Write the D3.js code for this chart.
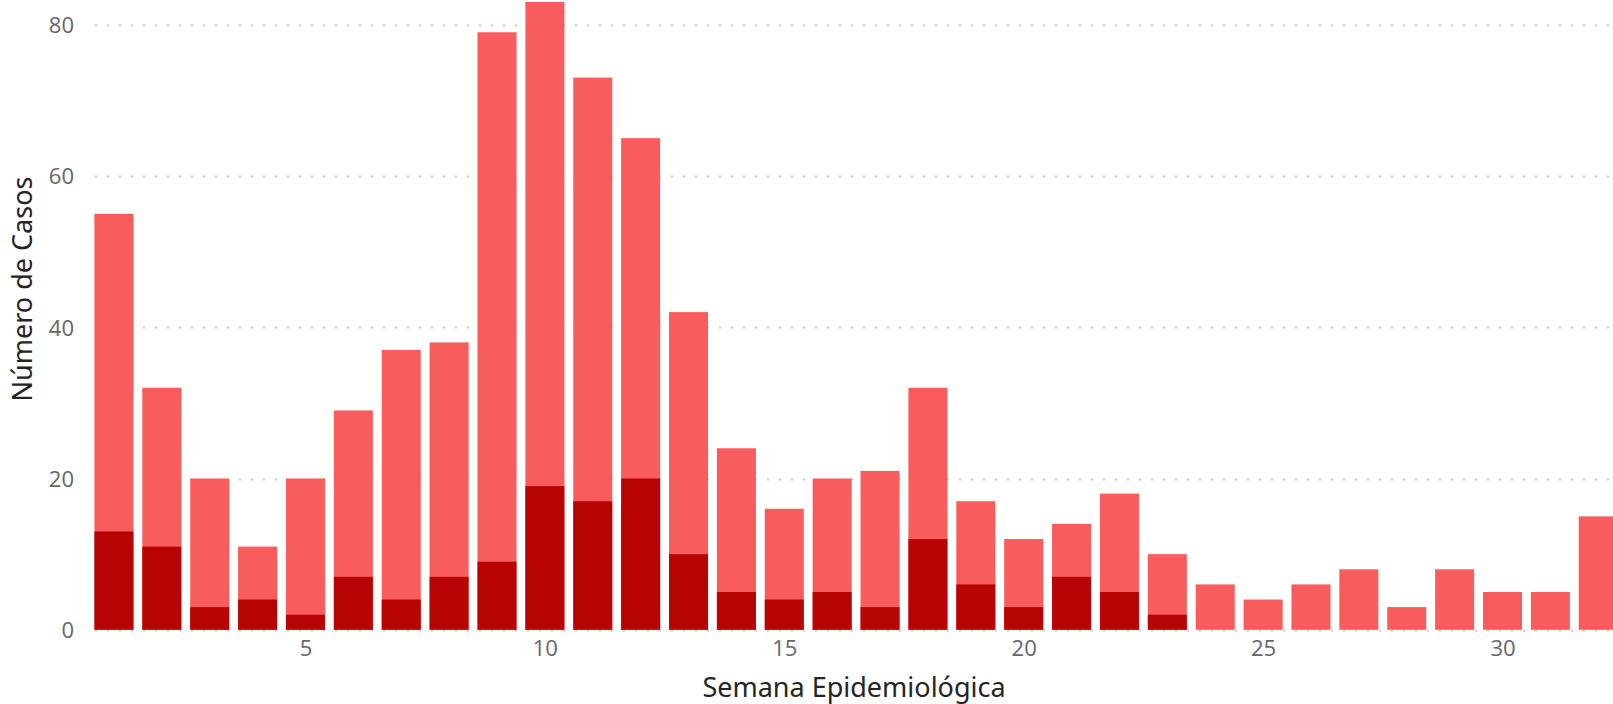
<!DOCTYPE html>
<html>
<head>
<meta charset="utf-8">
<script src="https://cdn.jsdelivr.net/npm/d3@7"></script>
<style>
  html, body { margin: 0; padding: 0; background: #fff; overflow: hidden; }
  svg { display: block; }
</style>
</head>
<body>
<svg id="chart" width="1613" height="704"></svg>
<script>
const weeks = [1,2,3,4,5,6,7,8,9,10,11,12,13,14,15,16,17,18,19,20,21,22,23,24,25,26,27,28,29,30,31,32];
const totalCases = [55,32,20,11,20,29,37,38,79,83,73,65,42,24,16,20,21,32,17,12,14,18,10,6,4,6,8,3,8,5,5,15];
const subsetCases = [13,11,3,4,2,7,4,7,9,19,17,20,10,5,4,5,3,12,6,3,7,5,2,0,0,0,0,0,0,0,0,0];
const yTicks = [0,20,40,60,80];
const xTicks = [5,10,15,20,25,30];
const xTitle = "Semana Epidemiológica";
const yTitle = "Número de Casos";

const svg = d3.select("#chart");
const W = 1613, H = 704;
const plotLeft = 95, plotRight = W;

const x = d3.scaleLinear().domain([0.5, 32.5]).range([90.0, 1622.2]);
const step = x(2) - x(1);
const barW = step * 0.815;
const y = d3.scaleLinear().domain([0, 83]).range([629.8, 2]);

// gridlines
const grid = svg.append("g");
grid.selectAll("line").data(yTicks).enter().append("line")
  .attr("x1", plotLeft).attr("x2", plotRight)
  .attr("y1", d => Math.round(y(d)) + 0.5).attr("y2", d => Math.round(y(d)) + 0.5)
  .attr("stroke", "#c8c8c8").attr("stroke-width", 2)
  .attr("stroke-dasharray", "2 10");

// light bars (total)
svg.append("g").selectAll("rect").data(weeks).enter().append("rect")
  .attr("x", (d) => x(d) - barW / 2)
  .attr("width", barW)
  .attr("y", (d, i) => y(totalCases[i]))
  .attr("height", (d, i) => y(0) - y(totalCases[i]))
  .attr("fill", "#F85C5C");

// dark bars (subset)
svg.append("g").selectAll("rect").data(weeks).enter().append("rect")
  .attr("x", (d) => x(d) - barW / 2)
  .attr("width", barW)
  .attr("y", (d, i) => y(subsetCases[i]))
  .attr("height", (d, i) => y(0) - y(subsetCases[i]))
  .attr("fill", "#B80404");

// y axis labels
const yAxis = d3.axisLeft(y).tickValues(yTicks).tickSize(0).tickPadding(0);
const gy = svg.append("g").attr("transform", "translate(74,0)").call(yAxis);
gy.select(".domain").remove();
gy.selectAll("text")
  .attr("font-family", "'Open Sans', 'Noto Sans', sans-serif")
  .attr("font-size", 22)
  .attr("fill", "#666666")
  .attr("dy", "0.36em");

// x axis labels
const xAxis = d3.axisBottom(x).tickValues(xTicks).tickSize(0).tickPadding(0);
const gx = svg.append("g").attr("transform", "translate(0,640)").call(xAxis);
gx.select(".domain").remove();
gx.selectAll("text")
  .attr("font-family", "'Open Sans', 'Noto Sans', sans-serif")
  .attr("font-size", 22)
  .attr("fill", "#666666")
  .attr("dy", "0.71em");

// axis titles
svg.append("text")
  .attr("x", (plotLeft + plotRight) / 2)
  .attr("y", 697)
  .attr("text-anchor", "middle")
  .attr("font-family", "'Noto Sans', 'Open Sans', sans-serif")
  .attr("font-size", 27)
  .attr("fill", "#252423")
  .text(xTitle);

svg.append("text")
  .attr("transform", "translate(32,289) rotate(-90)")
  .attr("text-anchor", "middle")
  .attr("font-family", "'Noto Sans', 'Open Sans', sans-serif")
  .attr("font-size", 27)
  .attr("fill", "#252423")
  .text(yTitle);
</script>
</body>
</html>
